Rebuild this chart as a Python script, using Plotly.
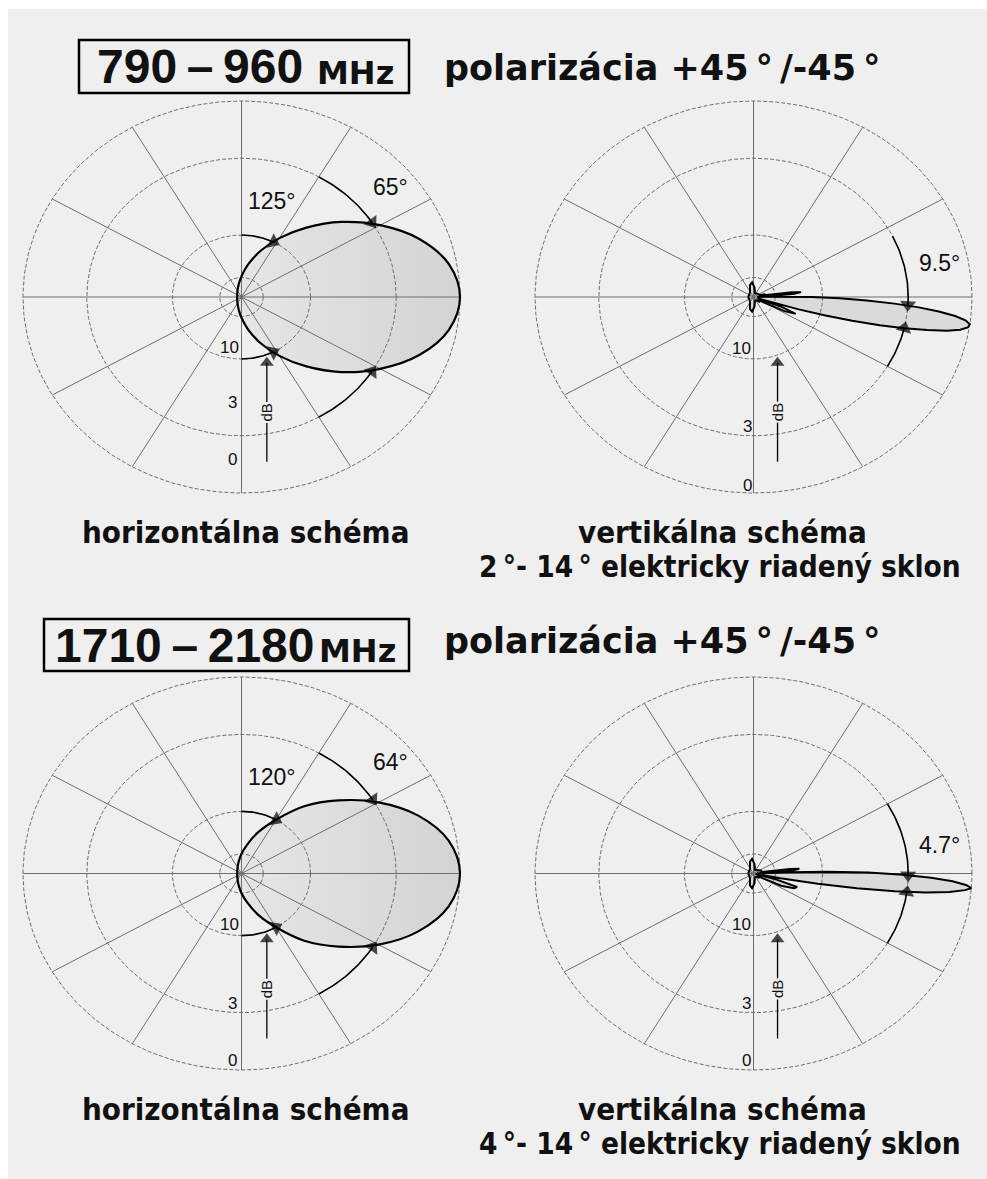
import numpy as np
import plotly.graph_objects as go

# page window 987x1179; figure placed at (8, 9) on the page
PAGE_W, PAGE_H = 987, 1179
OX, OY = 8, 9
W, H = PAGE_W - OX, PAGE_H - OY
BG = "#efefef"

# ---------------- data ----------------
BANDS = ["790\u2009\u2013\u2009960", "1710\u2009\u2013\u20092180"]
UNIT = "MHz"
POLARIZATION = "polarizácia +45\u2009°\u2009/-45\u2009°"
H_TITLE = "horizontálna schéma"
V_TITLE = "vertikálna schéma"
TILT_TEXT = ["2\u2009°- 14\u2009° elektricky riadený sklon",
             "4\u2009°- 14\u2009° elektricky riadený sklon"]

RING_DB = [0, -3, -10, -20]          # grid rings (dB)
RING_LABELS = ["0", "3", "10"]
SPOKE_ANG = list(range(0, 360, 30))  # grid spokes (deg)

H_BW3 = [65, 64]      # horizontal -3 dB beamwidth (deg)
H_BW10 = [125, 120]   # horizontal -10 dB beamwidth (deg)
V_BW3 = [9.5, 4.7]    # vertical -3 dB beamwidth (deg)
V_EDGE_UP = [-3.2, -0.7]   # upper -3 dB edge of vertical lobe (deg)
V_EDGE_LO = [-13.0, -7.7]  # lower -3 dB edge of vertical lobe (deg)

H_ANG = list(range(-180, 181, 10))
H1_DB = [-34, -33.9, -33.5, -32.8, -31.9, -30.5, -28.7, -26.4, -23.2, -19.5,
         -15.6, -12.1, -9.2, -6.7, -4.5, -2.7, -1.25, -0.32, 0,
         -0.32, -1.25, -2.7, -4.5, -6.7, -9.2, -12.1, -15.6, -19.5,
         -23.2, -26.4, -28.7, -30.5, -31.9, -32.8, -33.5, -33.9, -34]
H2_DB = [-34, -34, -33.6, -33, -32, -30.7, -29, -26.5, -23.5, -20,
         -16.5, -13, -10, -7.0, -4.75, -2.8, -1.3, -0.33, 0,
         -0.33, -1.3, -2.8, -4.75, -7.0, -10, -13, -16.5, -20,
         -23.5, -26.5, -29, -30.7, -32, -33, -33.6, -34, -34]

V1_ANG = [-180, -150, -120, -105, -95, -85, -70, -50, -40, -34, -30, -27, -24,
          -21.5, -19.5, -18, -17, -16, -15, -14, -13, -12, -11, -10, -9, -8,
          -7, -6, -5, -4, -3, -2, -1, 0, 1, 2, 2.6, 3.5, 5, 6.5, 8, 9.5, 11,
          14, 20, 40, 70, 85, 95, 105, 120, 150, 180]
V1_DB = [-32, -33, -30, -24, -22.5, -26, -34, -33, -28, -32, -24, -16, -13.5,
         -17, -34, -19.8, -13.3, -9.3, -6.6, -4.5, -3.0, -1.8, -0.9, -0.35, -0.06, 0,
         -0.2, -0.65, -1.4, -2.4, -3.8, -5.7, -8.1, -11.5, -16.7, -26, -36, -22, -14.5, -13.2, -15, -20, -30,
         -25, -30, -32, -34, -26, -22.5, -24, -30, -33, -32]

V2_ANG = [-180, -150, -120, -105, -95, -85, -70, -50, -40, -34, -30, -26, -22,
          -19, -16, -13.5, -12, -11, -10, -9, -8, -7, -6, -5, -4.3, -3.5, -2.5,
          -1.5, -0.5, 0.5, 1.5, 2.5, 3.2, 4, 5, 6.5, 8, 10, 13, 20, 40, 70, 85,
          95, 105, 120, 150, 180]
V2_DB = [-32, -33, -30, -24, -22.5, -26, -34, -33, -29, -33, -26, -17, -14,
         -13.5, -20, -30, -40, -18, -10.5, -6.4, -3.7, -2.0, -0.9, -0.25, 0, -0.2, -0.8,
         -1.8, -3.3, -5.6, -9.5, -16, -36, -22, -15, -13.5, -15.5, -22, -30, -28, -32, -34, -26,
         -22.5, -24, -30, -33, -32]

# ---------------- geometry (page pixels) ----------------
R = 1.06
PANELS = [
    dict(cx=241.5, cy=297.0, a=218.5, b=196.0),
    dict(cx=753.5, cy=297.0, a=218.5, b=196.0),
    dict(cx=241.5, cy=873.5, a=218.5, b=196.5),
    dict(cx=753.5, cy=873.5, a=218.5, b=196.5),
]
RING_LABEL_POS = [
    [(-0.039, -0.83), (-0.039, -0.54), (-0.056, -0.26)],
    [(-0.027, -0.96), (-0.027, -0.663), (-0.053, -0.263)],
    [(-0.039, -0.95), (-0.039, -0.66), (-0.057, -0.262)],
    [(-0.03, -0.95), (-0.03, -0.66), (-0.053, -0.262)],
]

GRID = "#6e6e6e"
FILL = "#dadada"
FONT = "Liberation Sans, Arial, sans-serif"
TFONT = "DejaVu Sans Condensed, DejaVu Sans, sans-serif"
PFONT = "DejaVu Sans, sans-serif"


def px(x):
    return (x - OX) / W


def py(y):
    return 1 - (y - OY) / H


def to_xy(ang, db):
    r = 10 ** (np.asarray(db, float) / 20.0)
    t = np.radians(np.asarray(ang, float))
    return r * np.cos(t), r * np.sin(t)


def ring_r(db):
    return 10 ** (db / 20.0)


fig = go.Figure()
annotations = []
shapes = []
layout_axes = {}


def axn(k):
    return ("x", "y") if k == 0 else (f"x{k+1}", f"y{k+1}")


def add_arc(k, r, t0, t1, w=1.6):
    xa, ya = axn(k)
    t = np.radians(np.linspace(t0, t1, 40))
    sizes = [0] * 39 + [14]
    fig.add_trace(go.Scatter(
        x=r * np.cos(t), y=r * np.sin(t), mode="lines+markers",
        line=dict(color="black", width=w),
        marker=dict(symbol="triangle-up", size=sizes, color="black",
                    angleref="previous", line=dict(width=0)),
        xaxis=xa, yaxis=ya, hoverinfo="skip", showlegend=False))


for k, P in enumerate(PANELS):
    xa, ya = axn(k)
    key = "" if k == 0 else str(k + 1)
    layout_axes["xaxis" + key] = dict(
        domain=[px(P["cx"] - P["a"] * R), px(P["cx"] + P["a"] * R)],
        range=[-R, R], visible=False, fixedrange=True, anchor=ya)
    layout_axes["yaxis" + key] = dict(
        domain=[py(P["cy"] + P["b"] * R), py(P["cy"] - P["b"] * R)],
        range=[-R, R], visible=False, fixedrange=True, anchor=xa)

    band = k // 2
    vertical = (k % 2 == 1)
    if vertical:
        ang = V1_ANG if band == 0 else V2_ANG
        db = V1_DB if band == 0 else V2_DB
        shape = "linear"
    else:
        ang = H_ANG
        db = H1_DB if band == 0 else H2_DB
        shape = "spline"
    pxs, pys = to_xy(ang, db)

    # fill
    fill_kw = dict(fillcolor=FILL)
    if not vertical:
        fill_kw = dict(fillgradient=dict(type="horizontal",
                                         colorscale=[[0, "#e6e6e6"], [1, "#d3d3d3"]]))
    fig.add_trace(go.Scatter(x=pxs, y=pys, mode="lines", fill="toself",
                             line=dict(width=0, shape=shape), **fill_kw,
                             xaxis=xa, yaxis=ya, hoverinfo="skip", showlegend=False))
    # rings
    tt = np.linspace(0, 2 * np.pi, 361)
    rx, ry = [], []
    for d in RING_DB:
        rr = ring_r(d)
        rx += list(rr * np.cos(tt)) + [None]
        ry += list(rr * np.sin(tt)) + [None]
    fig.add_trace(go.Scatter(x=rx, y=ry, mode="lines",
                             line=dict(color=GRID, width=1, dash="4px,2px"),
                             xaxis=xa, yaxis=ya, hoverinfo="skip", showlegend=False))
    # spokes
    sx, sy = [], []
    for s in SPOKE_ANG:
        t = np.radians(s)
        sx += [0, np.cos(t), None]
        sy += [0, np.sin(t), None]
    fig.add_trace(go.Scatter(x=sx, y=sy, mode="lines",
                             line=dict(color=GRID, width=1),
                             xaxis=xa, yaxis=ya, hoverinfo="skip", showlegend=False))
    # pattern outline
    fig.add_trace(go.Scatter(x=pxs, y=pys, mode="lines",
                             line=dict(color="black", width=2.2 if not vertical else 2.0, shape=shape),
                             xaxis=xa, yaxis=ya, hoverinfo="skip", showlegend=False))

    r3 = ring_r(-3)
    r10 = ring_r(-10)
    if not vertical:
        h3 = H_BW3[band] / 2
        h10 = H_BW10[band] / 2
        add_arc(k, r3, 60, h3)
        add_arc(k, r3, -60, -h3)
        add_arc(k, r10, 90, h10)
        add_arc(k, r10, -90, -h10)
        annotations.append(dict(x=0.14, y=0.49 if band == 0 else 0.489, xref=xa, yref=ya,
                                text=f"{H_BW10[band]}°", showarrow=False,
                                font=dict(family=FONT, size=23, color="#111")))
        annotations.append(dict(x=0.684, y=0.561 if band == 0 else 0.568, xref=xa, yref=ya,
                                text=f"{H_BW3[band]}°", showarrow=False,
                                font=dict(family=FONT, size=23, color="#111")))
    else:
        add_arc(k, r3, 26 if band == 0 else 30, V_EDGE_UP[band])
        add_arc(k, r3, -30, V_EDGE_LO[band])
        annotations.append(dict(x=0.851, y=0.173 if band == 0 else 0.145, xref=xa, yref=ya,
                                text=f"{V_BW3[band]}°", showarrow=False,
                                font=dict(family=FONT, size=23, color="#111")))

    # dB arrow
    dbx = 0.116 if not vertical else 0.11
    fig.add_trace(go.Scatter(x=[dbx, dbx], y=[-0.84, -0.335], mode="lines+markers",
                             line=dict(color="black", width=1.3),
                             marker=dict(symbol="triangle-up", size=[0, 12], color="black",
                                         angleref="previous", line=dict(width=0)),
                             xaxis=xa, yaxis=ya, hoverinfo="skip", showlegend=False))
    annotations.append(dict(x=dbx, y=-0.59, xref=xa, yref=ya, text="dB", textangle=-90,
                            showarrow=False, bgcolor=BG, borderpad=1,
                            font=dict(family=FONT, size=15, color="#111")))
    for lab, (lx, ly) in zip(RING_LABELS, RING_LABEL_POS[k]):
        annotations.append(dict(x=lx, y=ly, xref=xa, yref=ya, text=lab, showarrow=False,
                                font=dict(family=FONT, size=17, color="#111")))

# ---------------- headers & captions ----------------
HEAD = [dict(box=(79, 40, 409, 93), num_x=95, num_y=66.5, unit_x=315, unit_y=72.5, pol_y=68),
        dict(box=(44, 619, 409, 671), num_x=53, num_y=645, unit_x=317, unit_y=651, pol_y=641)]
CAP = [dict(y1=532, y2=567), dict(y1=1109, y2=1144)]

for i in range(2):
    hd = HEAD[i]
    x0, y0, x1, y1 = hd["box"]
    shapes.append(dict(type="rect", xref="paper", yref="paper",
                       x0=px(x0), x1=px(x1), y0=py(y1), y1=py(y0),
                       line=dict(color="black", width=2.5)))
    annotations.append(dict(x=px(hd["num_x"]), y=py(hd["num_y"]), xref="paper", yref="paper",
                            xanchor="left", yanchor="middle", text=f"<b>{BANDS[i]}</b>",
                            showarrow=False, font=dict(family=FONT, size=48, color="#111")))
    annotations.append(dict(x=px(hd["unit_x"]), y=py(hd["unit_y"]), xref="paper", yref="paper",
                            xanchor="left", yanchor="middle", text=f"<b>{UNIT}</b>",
                            showarrow=False, font=dict(family=PFONT, size=32, color="#111")))
    annotations.append(dict(x=px(442), y=py(hd["pol_y"]), xref="paper", yref="paper",
                            xanchor="left", yanchor="middle", text=f"<b>{POLARIZATION}</b>",
                            showarrow=False, font=dict(family=PFONT, size=35, color="#111")))
    cp = CAP[i]
    annotations.append(dict(x=px(245), y=py(cp["y1"]), xref="paper", yref="paper",
                            xanchor="center", yanchor="middle", text=f"<b>{H_TITLE}</b>",
                            showarrow=False, font=dict(family=TFONT, size=31, color="#111")))
    annotations.append(dict(x=px(722), y=py(cp["y1"]), xref="paper", yref="paper",
                            xanchor="center", yanchor="middle", text=f"<b>{V_TITLE}</b>",
                            showarrow=False, font=dict(family=TFONT, size=31, color="#111")))
    annotations.append(dict(x=px(477), y=py(cp["y2"]), xref="paper", yref="paper",
                            xanchor="left", yanchor="middle", text=f"<b>{TILT_TEXT[i]}</b>",
                            showarrow=False, font=dict(family=TFONT, size=29.5, color="#111")))

fig.update_layout(width=W, height=H, margin=dict(l=0, r=0, t=0, b=0),
                  paper_bgcolor=BG, plot_bgcolor="rgba(0,0,0,0)",
                  showlegend=False, annotations=annotations, shapes=shapes,
                  **layout_axes)

fig.write_html(
    "out.html", config={"displayModeBar": False},
    post_script=("document.documentElement.style.overflow='hidden';"
                 "document.body.style.overflow='hidden';"
                 "document.body.style.margin='9px 0px 0px 8px';"))
